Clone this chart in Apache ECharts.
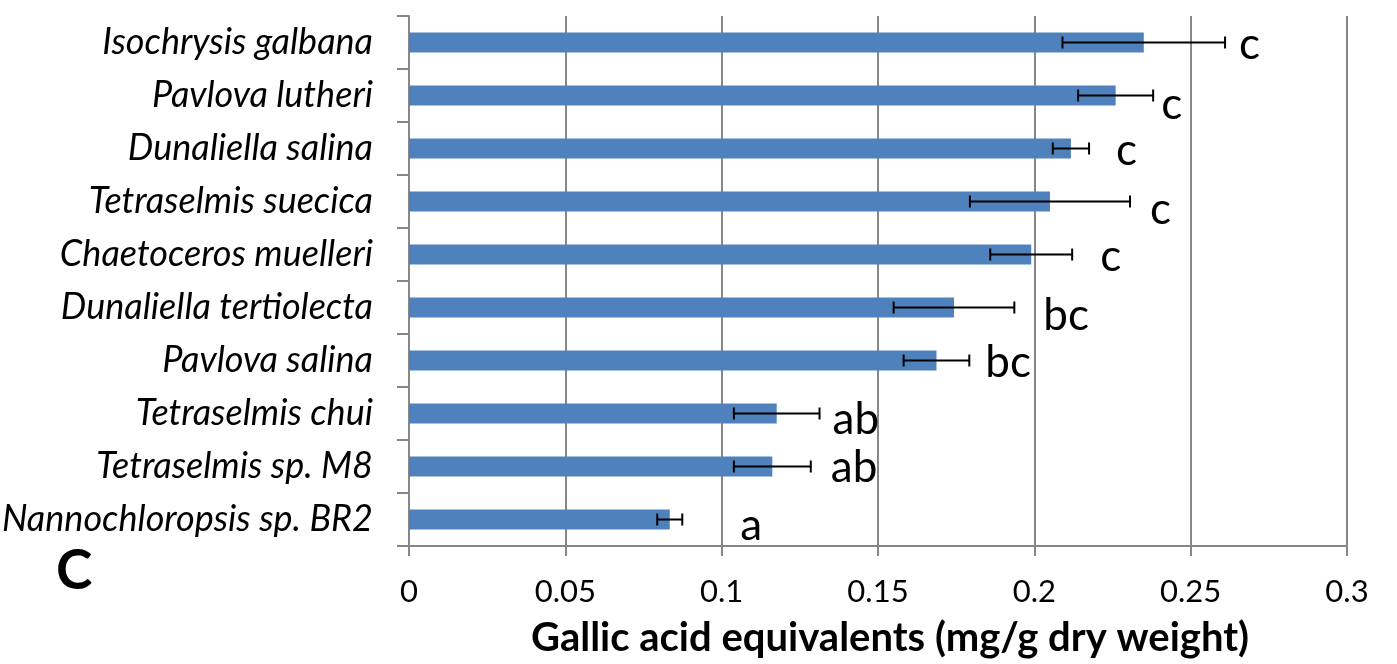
<!DOCTYPE html>
<html>
<head>
<meta charset="utf-8">
<script src="https://cdn.jsdelivr.net/npm/echarts@6/dist/echarts.min.js"></script>
<style>
  html, body { margin: 0; padding: 0; background: #fff; }
  #chart { width: 1397px; height: 664px; }
</style>
</head>
<body>
<div id="chart"></div>
<script>
// Microalgae species, top to bottom
const species = [
  'Isochrysis galbana',
  'Pavlova lutheri',
  'Dunaliella salina',
  'Tetraselmis suecica',
  'Chaetoceros muelleri',
  'Dunaliella tertiolecta',
  'Pavlova salina',
  'Tetraselmis chui',
  'Tetraselmis sp. M8',
  'Nannochloropsis sp. BR2'
];
// Mean gallic acid equivalents (mg/g dry weight)
const means = [0.235, 0.226, 0.2117, 0.205, 0.199, 0.1743, 0.1687, 0.1176, 0.1162, 0.0834];
// Standard deviations
const errors = [0.026, 0.012, 0.0058, 0.0256, 0.0131, 0.0193, 0.0105, 0.0137, 0.0123, 0.004];
// Significance groups
const groups = ['c', 'c', 'c', 'c', 'c', 'bc', 'bc', 'ab', 'ab', 'a'];
// X axis ticks
const xMin = 0, xMax = 0.3, xStep = 0.05;

// Pixel shift of each group letter from the end of its error bar
const letterShift = [[14, 2], [8, 9], [27, 2], [20, 8], [28, 2], [29, 8], [16, 2], [13, 6], [20, 1], [58, 6]];

const grey = '#878787';
const chart = echarts.init(document.getElementById('chart'), null, { renderer: 'canvas' });

const errData = species.map((s, i) => [i, means[i] - errors[i], means[i] + errors[i]]);

chart.setOption({
  animation: false,
  backgroundColor: '#ffffff',
  grid: { left: 409, top: 16, width: 938, height: 530, containLabel: false, outerBoundsMode: 'none' },
  xAxis: {
    type: 'value',
    min: xMin, max: xMax, interval: xStep,
    name: 'Gallic acid equivalents (mg/g dry weight)',
    nameLocation: 'middle',
    nameGap: 72,
    nameTextStyle: { fontFamily: 'Lato', fontWeight: 'bold', fontSize: 40, color: '#000', padding: [0, 0, 0, 24] },
    axisLine: { show: true, lineStyle: { color: grey, width: 2 } },
    axisTick: { show: true, length: 10, lineStyle: { color: grey, width: 2 } },
    axisLabel: { fontFamily: 'Lato', fontSize: 31, color: '#000', margin: 30 },
    splitLine: { show: true, lineStyle: { color: grey, width: 2 } }
  },
  yAxis: {
    type: 'category',
    inverse: true,
    data: species,
    axisLine: { show: true, lineStyle: { color: grey, width: 2 } },
    axisTick: { show: true, length: 12, lineStyle: { color: grey, width: 2 } },
    axisLabel: { fontFamily: 'Lato', fontStyle: 'italic', fontSize: 36, color: '#000', margin: 36 },
    splitLine: { show: false }
  },
  graphic: [{
    type: 'text',
    left: 56, top: 544,
    style: { text: 'C', fontFamily: 'Lato', fontWeight: 'bold', fontSize: 55, fill: '#000' }
  }],
  series: [
    {
      type: 'bar',
      data: means,
      barWidth: 20,
      itemStyle: { color: '#4f81bd' },
      z: 2
    },
    {
      type: 'custom',
      data: errData,
      encode: { x: [1, 2], y: 0 },
      z: 5,
      renderItem: function (params, api) {
        const idx = api.value(0);
        const lo = api.coord([api.value(1), idx]);
        const hi = api.coord([api.value(2), idx]);
        const cap = 6;
        const shift = letterShift[idx];
        const line = { stroke: '#000', lineWidth: 2 };
        return {
          type: 'group',
          children: [
            { type: 'line', shape: { x1: lo[0], y1: lo[1], x2: hi[0], y2: hi[1] }, style: line },
            { type: 'line', shape: { x1: lo[0], y1: lo[1] - cap, x2: lo[0], y2: lo[1] + cap }, style: line },
            { type: 'line', shape: { x1: hi[0], y1: hi[1] - cap, x2: hi[0], y2: hi[1] + cap }, style: line },
            {
              type: 'text',
              style: {
                text: groups[idx],
                x: hi[0] + shift[0],
                y: hi[1] + shift[1],
                fontFamily: 'Lato',
                fontSize: 44,
                fill: '#000',
                textAlign: 'left',
                textVerticalAlign: 'middle'
              }
            }
          ]
        };
      }
    }
  ]
});
</script>
</body>
</html>
